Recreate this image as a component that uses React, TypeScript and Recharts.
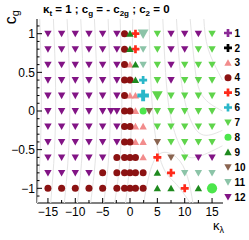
import React from "react";
import { ScatterChart, Scatter, XAxis, YAxis } from "recharts";

// kappa_lambda columns and c_g rows of the scan
const klColumns = [-15, -12.5, -10, -7.5, -5, -3.5, -2.4, -1, 0, 1, 2.4, 3.5, 5, 7.5, 10, 12.5, 15];
const cgRows = [1, 0.8, 0.6, 0.4, 0.2, 0, -0.2, -0.4, -0.6, -0.8, -1];

// cluster number at each (row, column), 0 = no point
const clusterByRow = [
  [12, 12, 12, 12, 12, 0, 12, 4, 9, 5, 11, 0, 7, 12, 12, 12, 7],
  [12, 12, 12, 12, 12, 0, 12, 4, 9, 5, 11, 0, 7, 12, 12, 7, 7],
  [12, 12, 12, 12, 12, 0, 12, 4, 3, 9, 11, 0, 7, 12, 7, 7, 7],
  [12, 12, 12, 12, 12, 0, 12, 4, 4, 9, 6, 0, 7, 12, 7, 7, 7],
  [12, 12, 12, 12, 12, 0, 12, 4, 3, 3, 6, 0, 7, 7, 7, 7, 7],
  [12, 12, 12, 12, 12, 12, 12, 4, 4, 3, 8, 10, 7, 7, 7, 7, 7],
  [12, 12, 12, 12, 12, 0, 12, 4, 4, 3, 3, 0, 7, 7, 7, 7, 7],
  [12, 12, 12, 12, 12, 0, 12, 4, 4, 3, 3, 0, 10, 7, 7, 7, 7],
  [12, 12, 12, 12, 12, 0, 4, 4, 4, 4, 3, 0, 5, 10, 7, 12, 12],
  [12, 12, 12, 12, 4, 0, 4, 4, 4, 4, 4, 0, 9, 5, 11, 11, 11],
  [4, 4, 4, 4, 4, 0, 4, 4, 4, 4, 4, 0, 9, 9, 5, 9, 8],
];

// benchmark points drawn with a bigger marker [kl, cg]
const benchmarkPoints = [
  [2.4, 1],
  [2.4, 0.2],
  [5, 0.2],
  [15, -1],
];

const clusterIds = [1, 2, 3, 4, 5, 6, 7, 8, 9, 10, 11, 12];
const clusterColors = ["#8a2a96", "#000000", "#f28c8c", "#8b1212", "#ff2a1a", "#2ab7c9", "#5fd44b", "#4ce64c", "#1e8a1e", "#8a6450", "#8cc4a8", "#821485"];
const clusterKinds = ["cross", "cross", "up", "circle", "cross", "cross", "down", "circle", "up", "down", "down", "down"];

// faint background contours, [kl, cg]
const contour1 = [[-16.5, 1.19], [-16.2, 0.3], [-16.4, -0.5], [-16.9, -1.19]];
const contour2 = [[-14, 1.19], [-13.6, 0.3], [-13.8, -0.5], [-14.5, -1.19]];
const contour3 = [[-11.5, 1.19], [-11, 0.2], [-11.3, -0.6], [-12, -1.19]];
const contour4 = [[-9, 1.19], [-8.5, 0.2], [-8.8, -0.6], [-9.6, -1.19]];
const contour5 = [[-6.5, 1.19], [-6, 0.2], [-6.3, -0.6], [-7.2, -1.19]];
const contour6 = [[-4, 1.19], [-3.6, 0.2], [-3.9, -0.6], [-4.8, -1.19]];
const contour7 = [[-1.8, 1.19], [-1.5, 0.2], [-1.8, -0.6], [-2.8, -1.19]];
const contour8 = [[0.5, 1.19], [0.3, 0.2], [0, -0.6], [-0.8, -1.19]];
const contour9 = [[3.5, 1.19], [3.8, 0.4], [4.6, -0.3], [6.2, -0.75], [8.5, -0.95], [11, -1.19]];
const contour10 = [[6, 1.19], [6.5, 0.5], [7.5, -0.1], [9.5, -0.5], [12, -0.6], [16.9, -0.45]];
const contour11 = [[8.5, 1.19], [9.2, 0.5], [10.5, 0], [13, -0.3], [16.9, -0.25]];
const contour12 = [[11, 1.19], [11.8, 0.6], [13.2, 0.2], [16.9, 0]];
const contour13 = [[13.5, 1.19], [14.3, 0.8], [16.9, 0.4]];
const contour14 = [[2.5, -1.19], [3.6, -0.8], [5.5, -0.55], [8.5, -0.6], [10.5, -0.85], [11.5, -1.19]];
const contours = [contour1, contour2, contour3, contour4, contour5, contour6, contour7, contour8, contour9, contour10, contour11, contour12, contour13, contour14];

const xTicks = [-15, -12.5, -10, -7.5, -5, -2.5, 0, 2.5, 5, 7.5, 10, 12.5, 15];
const xLabels = [-15, -10, -5, 0, 5, 10, 15];
const yTicks = [-1.1, -1, -0.9, -0.8, -0.7, -0.6, -0.5, -0.4, -0.3, -0.2, -0.1, 0, 0.1, 0.2, 0.3, 0.4, 0.5, 0.6, 0.7, 0.8, 0.9, 1, 1.1];
const yLabels = [-1, -0.5, 0, 0.5, 1];

const FONT = "'Liberation Sans', Arial, Helvetica, sans-serif";

const fmt = (v: number) => (v < 0 ? "\u2212" + Math.abs(v) : String(v));

function Marker({ kind, color, cx, cy, s }: { kind: string; color: string; cx: number; cy: number; s: number }) {
  if (kind === "circle") return <circle cx={cx} cy={cy} r={3.5 * s} fill={color} />;
  if (kind === "down" || kind === "up") {
    const w = 3.7 * s;
    const h = 6.6 * s;
    const d = kind === "down" ? 1 : -1;
    const pts = [
      [cx - w, cy - d * h * 0.45],
      [cx + w, cy - d * h * 0.45],
      [cx, cy + d * h * 0.55],
    ];
    return <polygon points={pts.map((p) => p.join(",")).join(" ")} fill={color} />;
  }
  const a = 4 * s;
  const t = 1.35 * s;
  const pts = [
    [-t, -a], [t, -a], [t, -t], [a, -t], [a, t], [t, t],
    [t, a], [-t, a], [-t, t], [-a, t], [-a, -t], [-t, -t],
  ];
  return <polygon points={pts.map((p) => `${cx + p[0]},${cy + p[1]}`).join(" ")} fill={color} />;
}

function pointsFor(id: number) {
  const out: { kl: number; cg: number; big: boolean }[] = [];
  clusterByRow.forEach((row, r) => {
    row.forEach((c, k) => {
      if (c !== id) return;
      const kl = klColumns[k];
      const cg = cgRows[r];
      const big = benchmarkPoints.some((b) => b[0] === kl && b[1] === cg);
      out.push({ kl, cg, big });
    });
  });
  return out;
}

// ROOT style: ticks point into the frame, labels outside
const XTick = (props: any) => {
  const { x, payload } = props;
  const y = 203;
  const v = payload.value;
  const major = xLabels.includes(v);
  return (
    <g>
      <line x1={x} x2={x} y1={y} y2={y - (major ? 5 : 3)} stroke="#000" />
      {major && (
        <text x={x} y={y + 12.5} textAnchor="middle" fontSize={12} fontFamily={FONT} fill="#000">
          {fmt(v)}
        </text>
      )}
    </g>
  );
};

const YTick = (props: any) => {
  const { y, payload } = props;
  const x = 37;
  const v = payload.value;
  const major = yLabels.some((l) => Math.abs(l - v) < 1e-6);
  return (
    <g>
      <line x1={x} x2={x + (major ? 5 : 2.5)} y1={y} y2={y} stroke="#000" />
      {major && (
        <text x={x - 2} y={y + 4.2} textAnchor="end" fontSize={12} fontFamily={FONT} fill="#000">
          {fmt(v)}
        </text>
      )}
    </g>
  );
};

export default function App() {
  return (
    <div style={{ position: "absolute", left: 0, top: 0, width: 249, height: 240, background: "#fff" }}>
      <ScatterChart width={249} height={240} margin={{ top: 19, right: 26, bottom: 0, left: 0 }}>
        <XAxis
          type="number"
          dataKey="kl"
          domain={[-17, 17]}
          ticks={xTicks}
          interval={0}
          height={37}
          tickSize={0}
          tickMargin={0}
          tickLine={false}
          tick={<XTick />}
          axisLine={{ stroke: "#000" }}
          allowDataOverflow
        />
        <YAxis
          type="number"
          dataKey="cg"
          domain={[-1.19, 1.19]}
          ticks={yTicks}
          interval={0}
          width={37}
          tickSize={0}
          tickMargin={0}
          tickLine={false}
          tick={<YTick />}
          axisLine={{ stroke: "#000" }}
          allowDataOverflow
        />
        <XAxis xAxisId="top" orientation="top" type="number" domain={[-17, 17]} height={0} tick={false} tickLine={false} axisLine={{ stroke: "#000" }} />
        <YAxis yAxisId="right" orientation="right" type="number" domain={[-1.19, 1.19]} width={0} tick={false} tickLine={false} axisLine={{ stroke: "#000" }} />
        {contours.map((c, i) => (
          <Scatter
            key={"c" + i}
            data={c.map((p) => ({ kl: p[0], cg: p[1] }))}
            line={{ stroke: "#e4e4e4", strokeWidth: 1 }}
            lineJointType="natural"
            shape={() => <g />}
            isAnimationActive={false}
          />
        ))}
        {clusterIds.map((id, i) => (
          <Scatter
            key={id}
            name={String(id)}
            data={pointsFor(id)}
            isAnimationActive={false}
            shape={(p: any) => (
              <Marker kind={clusterKinds[i]} color={clusterColors[i]} cx={p.cx} cy={p.cy} s={p.payload.big ? 1.45 : 1} />
            )}
          />
        ))}
      </ScatterChart>
      <svg width={249} height={240} style={{ position: "absolute", left: 0, top: 0, pointerEvents: "none" }}>
        <text x={43} y={13} fontSize={11.5} fontWeight="bold" fontFamily={FONT} fill="#000">
          κ<tspan dy={2.5} fontSize={8}>t</tspan>
          <tspan dy={-2.5}>{" = 1 ; c"}</tspan>
          <tspan dy={2.5} fontSize={8}>g</tspan>
          <tspan dy={-2.5}>{" = - c"}</tspan>
          <tspan dy={2.5} fontSize={8}>2g</tspan>
          <tspan dy={-2.5}>{" ; c"}</tspan>
          <tspan dy={2.5} fontSize={8}>2</tspan>
          <tspan dy={-2.5}>{" = 0"}</tspan>
        </text>
        <text transform="translate(16,10) rotate(-90)" textAnchor="end" fontSize={16} fontFamily={FONT} fill="#000">
          c<tspan dy={3} fontSize={11}>g</tspan>
        </text>
        <text x={224} y={230} textAnchor="end" fontSize={13} fontFamily={FONT} fill="#000">
          κ<tspan dy={3} fontSize={9}>λ</tspan>
        </text>
        {clusterIds.map((id, i) => {
          const y = 33 + i * 14.9;
          return (
            <g key={id}>
              <Marker kind={clusterKinds[i]} color={clusterColors[i]} cx={228} cy={y} s={1} />
              <text x={234.5} y={y + 3.6} fontSize={10} fontWeight="bold" fontFamily={FONT} fill="#000">
                {id}
              </text>
            </g>
          );
        })}
      </svg>
    </div>
  );
}
